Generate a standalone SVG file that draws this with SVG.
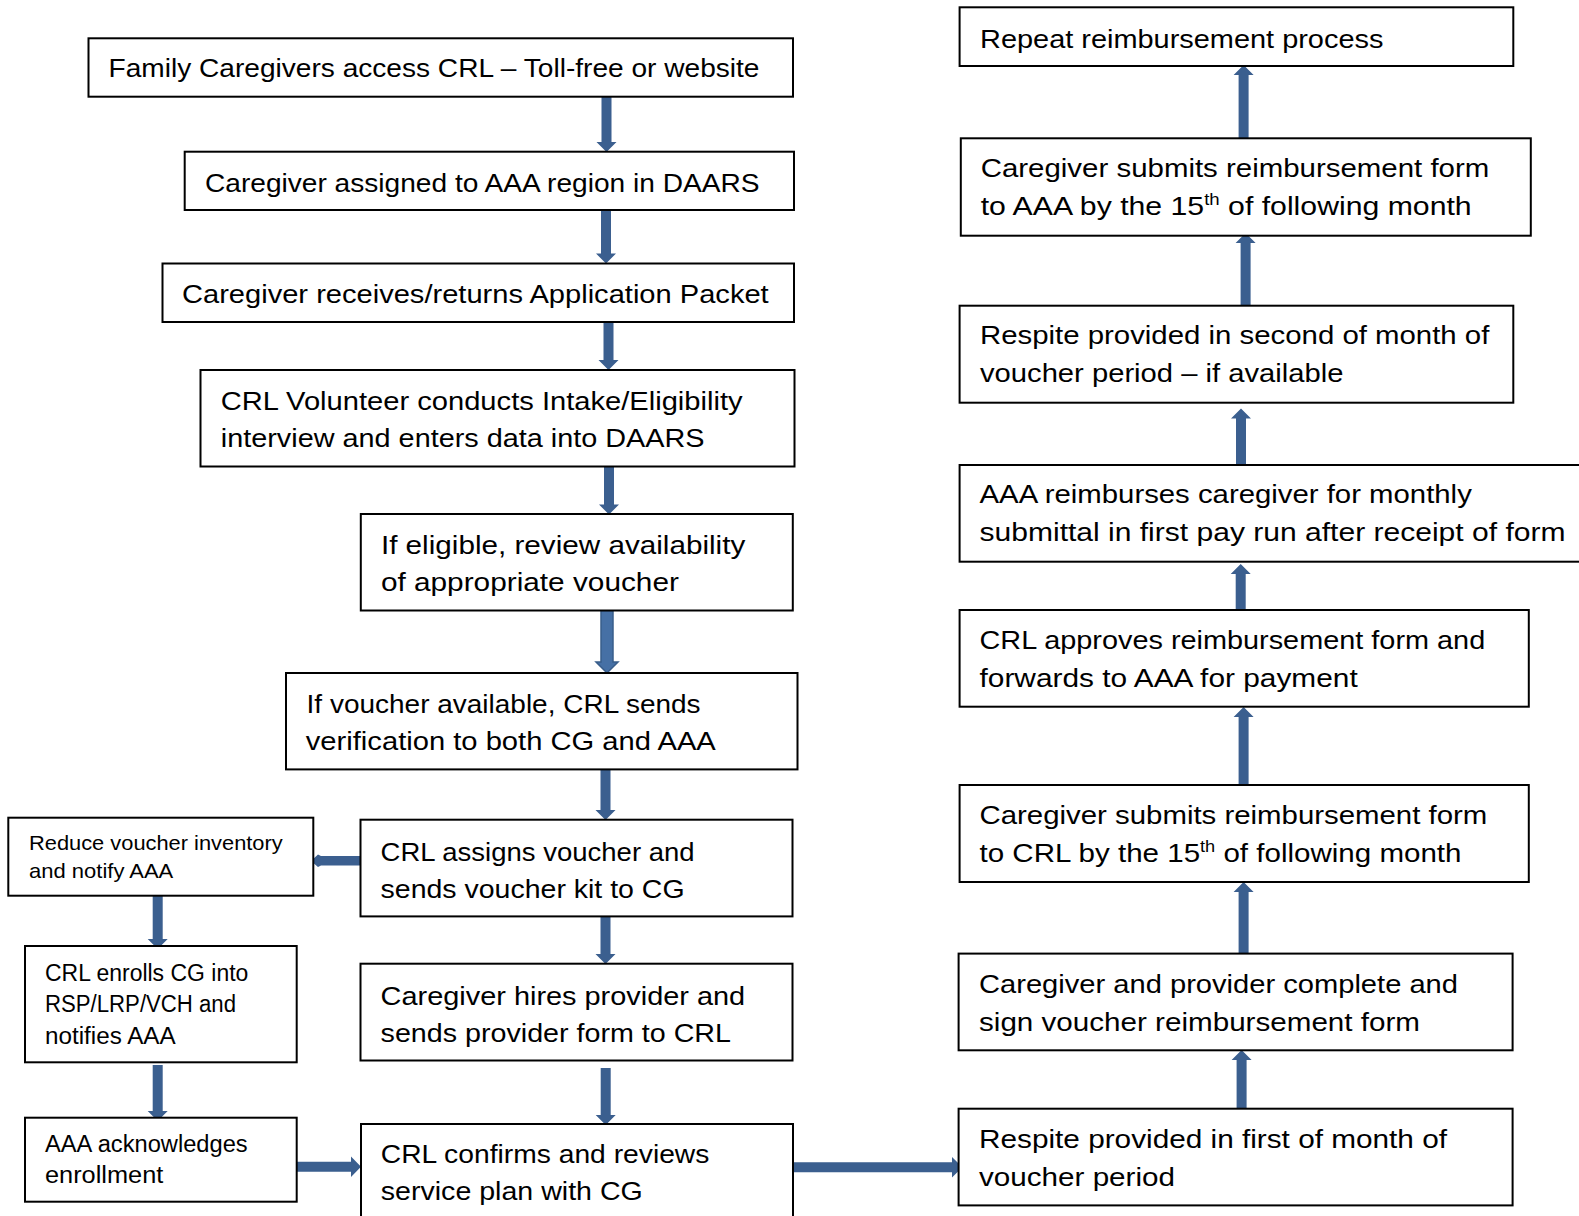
<svg xmlns="http://www.w3.org/2000/svg" width="1579" height="1216" viewBox="0 0 1579 1216">
<style>
.box{fill:#fff;stroke:#000;stroke-width:2}
.t{font-family:"Liberation Sans",Arial,sans-serif;font-size:26px;fill:#000}
.s{font-family:"Liberation Sans",Arial,sans-serif;font-size:21px;fill:#000}
.m{font-family:"Liberation Sans",Arial,sans-serif;font-size:23px;fill:#000}
.sup{font-size:16px}
.arr{fill:#3B5F8F}
.arr2{fill:#4670A5;stroke:#385D8A;stroke-width:1.5}
</style>
<rect width="1579" height="1216" fill="#fff"/>
<g id="connectors">
<!-- left column down arrows -->
<polygon class="arr" points="601.5,96.7 611.5,96.7 611.5,142 616.5,142 606.5,152 596.5,142 601.5,142"/>
<polygon class="arr" points="601,210 611,210 611,253.5 616,253.5 606,263.5 596,253.5 601,253.5"/>
<polygon class="arr" points="603.5,322 613.5,322 613.5,360 618.5,360 608.5,370 598.5,360 603.5,360"/>
<polygon class="arr" points="604,466.5 614,466.5 614,504.5 619,504.5 609,514.5 599,504.5 604,504.5"/>
<polygon class="arr2" points="601,610.5 613,610.5 613,662 618,662 607,673 596,662 601,662"/>
<polygon class="arr" points="600.5,769.5 610.5,769.5 610.5,810 615.5,810 605.5,820 595.5,810 600.5,810"/>
<polygon class="arr" points="600.5,916.5 610.5,916.5 610.5,954 615.5,954 605.5,964 595.5,954 600.5,954"/>
<polygon class="arr" points="600.7,1068 610.7,1068 610.7,1115 615.7,1115 605.7,1125 595.7,1115 600.7,1115"/>
<polygon class="arr" points="152.7,895.7 162.7,895.7 162.7,939 167.7,939 157.7,949 147.7,939 152.7,939"/>
<polygon class="arr" points="152.7,1065 162.7,1065 162.7,1111 167.7,1111 157.7,1121 147.7,1111 152.7,1111"/>
<!-- horizontal arrows -->
<polygon class="arr" points="295,1161.7 295,1171.7 351,1171.7 351,1177 361,1166.7 351,1156.4 351,1161.7"/>
<polygon class="arr" points="792,1162.3 792,1172.3 952,1172.3 952,1177.6 962.4,1167.3 952,1157 952,1162.3"/>
<path class="arr" d="M361,856 L361,865.5 L321,865.5 L318,867 L311,861 L318,854.5 L321,856 Z"/>
<!-- right column up arrows -->
<polygon class="arr" points="1238.6,138.3 1248.6,138.3 1248.6,75 1253.6,75 1243.6,65 1233.6,75 1238.6,75"/>
<polygon class="arr" points="1240.6,305.7 1250.6,305.7 1250.6,243 1255.6,243 1245.6,233 1235.6,243 1240.6,243"/>
<polygon class="arr" points="1236,465 1246,465 1246,418.5 1251,418.5 1241,408.5 1231,418.5 1236,418.5"/>
<polygon class="arr" points="1235.7,610 1245.7,610 1245.7,574 1250.7,574 1240.7,564 1230.7,574 1235.7,574"/>
<polygon class="arr" points="1238.6,785 1248.6,785 1248.6,717 1253.6,717 1243.6,707 1233.6,717 1238.6,717"/>
<polygon class="arr" points="1238.6,953.6 1248.6,953.6 1248.6,892 1253.6,892 1243.6,882 1233.6,892 1238.6,892"/>
<polygon class="arr" points="1236.6,1108.7 1246.6,1108.7 1246.6,1060 1251.6,1060 1241.6,1050 1231.6,1060 1236.6,1060"/>
</g>
<g id="nodeA"><rect class="box" x="88.5" y="38.3" width="704.5" height="58.4"/>
<text class="t" x="108.5" y="76.5" textLength="651" lengthAdjust="spacingAndGlyphs">Family Caregivers access CRL – Toll-free or website</text></g>
<g id="nodeB"><rect class="box" x="184.7" y="151.7" width="609.3" height="58.3"/>
<text class="t" x="205" y="191.7" textLength="554.5" lengthAdjust="spacingAndGlyphs">Caregiver assigned to AAA region in DAARS</text></g>
<g id="nodeC"><rect class="box" x="162.5" y="263.5" width="631.5" height="58.5"/>
<text class="t" x="182" y="303.3" textLength="586.7" lengthAdjust="spacingAndGlyphs">Caregiver receives/returns Application Packet</text></g>
<g id="nodeD"><rect class="box" x="200.5" y="370" width="594" height="96.5"/>
<text class="t" x="220.8" y="410" textLength="521.8" lengthAdjust="spacingAndGlyphs">CRL Volunteer conducts Intake/Eligibility</text>
<text class="t" x="220.8" y="447.3" textLength="483.8" lengthAdjust="spacingAndGlyphs">interview and enters data into DAARS</text></g>
<g id="nodeE"><rect class="box" x="360.8" y="514" width="432" height="96.5"/>
<text class="t" x="380.9" y="554" textLength="364.4" lengthAdjust="spacingAndGlyphs">If eligible, review availability</text>
<text class="t" x="380.9" y="591" textLength="298" lengthAdjust="spacingAndGlyphs">of appropriate voucher</text></g>
<g id="nodeF"><rect class="box" x="286" y="673" width="511.5" height="96.4"/>
<text class="t" x="306.6" y="712.7" textLength="394" lengthAdjust="spacingAndGlyphs">If voucher available, CRL sends</text>
<text class="t" x="305.8" y="750" textLength="410" lengthAdjust="spacingAndGlyphs">verification to both CG and AAA</text></g>
<g id="nodeG"><rect class="box" x="360.5" y="819.7" width="432" height="96.7"/>
<text class="t" x="380.6" y="861" textLength="314" lengthAdjust="spacingAndGlyphs">CRL assigns voucher and</text>
<text class="t" x="380.6" y="898" textLength="304" lengthAdjust="spacingAndGlyphs">sends voucher kit to CG</text></g>
<g id="nodeH"><rect class="box" x="360.5" y="963.7" width="432" height="96.8"/>
<text class="t" x="380.6" y="1005" textLength="364.6" lengthAdjust="spacingAndGlyphs">Caregiver hires provider and</text>
<text class="t" x="380.6" y="1042" textLength="350.4" lengthAdjust="spacingAndGlyphs">sends provider form to CRL</text></g>
<g id="nodeI"><rect class="box" x="361" y="1124" width="432" height="110"/>
<text class="t" x="380.8" y="1162.7" textLength="328.6" lengthAdjust="spacingAndGlyphs">CRL confirms and reviews</text>
<text class="t" x="380.8" y="1200" textLength="262" lengthAdjust="spacingAndGlyphs">service plan with CG</text></g>
<g id="nodeL"><rect class="box" x="8.3" y="817.7" width="305" height="78"/>
<text class="s" x="29" y="850" textLength="253.7" lengthAdjust="spacingAndGlyphs">Reduce voucher inventory</text>
<text class="s" x="29" y="878.3" textLength="144.3" lengthAdjust="spacingAndGlyphs">and notify AAA</text></g>
<g id="nodeM"><rect class="box" x="25" y="946" width="271.7" height="116.3"/>
<text class="m" x="45" y="981" textLength="203.3" lengthAdjust="spacingAndGlyphs">CRL enrolls CG into</text>
<text class="m" x="45" y="1012.3" textLength="191" lengthAdjust="spacingAndGlyphs">RSP/LRP/VCH and</text>
<text class="m" x="45" y="1044" textLength="130.7" lengthAdjust="spacingAndGlyphs">notifies AAA</text></g>
<g id="nodeK"><rect class="box" x="25" y="1117.7" width="271.7" height="84"/>
<text class="m" x="45" y="1151.7" textLength="202.7" lengthAdjust="spacingAndGlyphs">AAA acknowledges</text>
<text class="m" x="45" y="1183.3" textLength="118.3" lengthAdjust="spacingAndGlyphs">enrollment</text></g>
<g id="nodeR1"><rect class="box" x="959.6" y="7.3" width="553.7" height="58.7"/>
<text class="t" x="980" y="47.7" textLength="403.4" lengthAdjust="spacingAndGlyphs">Repeat reimbursement process</text></g>
<g id="nodeR2"><rect class="box" x="960.8" y="138.3" width="570" height="97.4"/>
<text class="t" x="980.7" y="176.7" textLength="508.6" lengthAdjust="spacingAndGlyphs">Caregiver submits reimbursement form</text>
<text class="t" x="980.7" y="215" textLength="491" lengthAdjust="spacingAndGlyphs">to AAA by the 15<tspan class="sup" dy="-10">th</tspan><tspan dy="10"> of following month</tspan></text></g>
<g id="nodeR3"><rect class="box" x="959.6" y="305.7" width="553.7" height="97"/>
<text class="t" x="980" y="344" textLength="509.3" lengthAdjust="spacingAndGlyphs">Respite provided in second of month of</text>
<text class="t" x="980" y="382.3" textLength="363.4" lengthAdjust="spacingAndGlyphs">voucher period – if available</text></g>
<g id="nodeR4"><rect class="box" x="959.6" y="465" width="640" height="96.7"/>
<text class="t" x="979.5" y="503.3" textLength="492.3" lengthAdjust="spacingAndGlyphs">AAA reimburses caregiver for monthly</text>
<text class="t" x="979.5" y="540.7" textLength="586" lengthAdjust="spacingAndGlyphs">submittal in first pay run after receipt of form</text></g>
<g id="nodeR5"><rect class="box" x="959.6" y="610" width="569.2" height="96.7"/>
<text class="t" x="979.5" y="649.3" textLength="505.7" lengthAdjust="spacingAndGlyphs">CRL approves reimbursement form and</text>
<text class="t" x="979.5" y="687.3" textLength="378.2" lengthAdjust="spacingAndGlyphs">forwards to AAA for payment</text></g>
<g id="nodeR6"><rect class="box" x="959.6" y="785" width="569.2" height="97"/>
<text class="t" x="979.5" y="824" textLength="507.8" lengthAdjust="spacingAndGlyphs">Caregiver submits reimbursement form</text>
<text class="t" x="979.5" y="861.7" textLength="482" lengthAdjust="spacingAndGlyphs">to CRL by the 15<tspan class="sup" dy="-10">th</tspan><tspan dy="10"> of following month</tspan></text></g>
<g id="nodeR7"><rect class="box" x="958.6" y="953.6" width="554" height="96.7"/>
<text class="t" x="979" y="993" textLength="479" lengthAdjust="spacingAndGlyphs">Caregiver and provider complete and</text>
<text class="t" x="979" y="1031" textLength="441" lengthAdjust="spacingAndGlyphs">sign voucher reimbursement form</text></g>
<g id="nodeR8"><rect class="box" x="958.6" y="1108.7" width="554" height="96.7"/>
<text class="t" x="979" y="1148" textLength="468" lengthAdjust="spacingAndGlyphs">Respite provided in first of month of</text>
<text class="t" x="979" y="1186" textLength="196" lengthAdjust="spacingAndGlyphs">voucher period</text></g>
</svg>
